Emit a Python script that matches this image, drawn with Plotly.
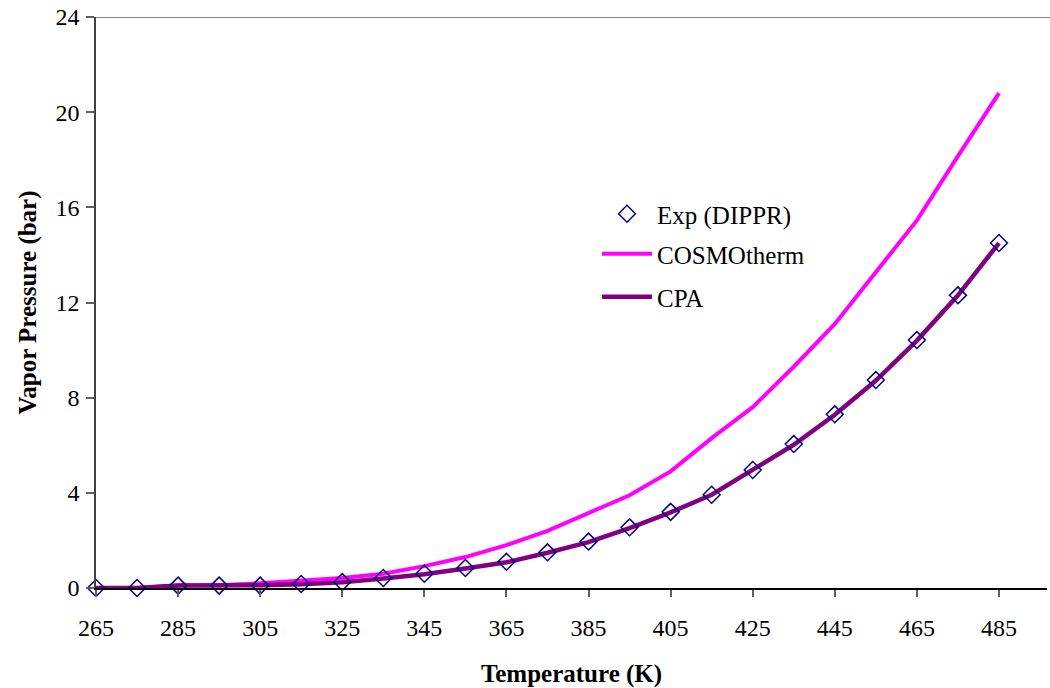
import plotly.graph_objects as go

temps = [265, 275, 285, 295, 305, 315, 325, 335, 345, 355, 365, 375,
         385, 395, 405, 415, 425, 435, 445, 455, 465, 475, 485]
exp_dippr = [0.0, 0.0, 0.1, 0.1, 0.1, 0.17, 0.25, 0.42, 0.6, 0.84, 1.1, 1.5,
             1.95, 2.55, 3.2, 3.92, 4.96, 6.05, 7.3, 8.74, 10.42, 12.3, 14.5]
cosmotherm = [0.0, 0.0, 0.1, 0.12, 0.2, 0.33, 0.42, 0.6, 0.92, 1.3, 1.8, 2.4,
              3.15, 3.9, 4.9, 6.3, 7.6, 9.3, 11.1, 13.3, 15.45, 18.15, 20.8]
cpa = [0.0, 0.0, 0.1, 0.1, 0.12, 0.16, 0.24, 0.4, 0.58, 0.82, 1.08, 1.48,
       1.93, 2.52, 3.18, 3.92, 4.95, 6.02, 7.28, 8.72, 10.4, 12.3, 14.5]

xticks = [265, 285, 305, 325, 345, 365, 385, 405, 425, 445, 465, 485]
yticks = [0, 4, 8, 12, 16, 20, 24]

FONT = "Times New Roman, Liberation Serif, serif"

fig = go.Figure()
fig.add_trace(go.Scatter(x=temps, y=cosmotherm, mode="lines", name="COSMOtherm",
                         line=dict(color="#FF00FF", width=4), legend="legend2",
                         cliponaxis=False))
fig.add_trace(go.Scatter(x=temps, y=cpa, mode="lines", name="CPA",
                         line=dict(color="#800080", width=4.5), legend="legend3",
                         cliponaxis=False))
fig.add_trace(go.Scatter(x=temps, y=exp_dippr, mode="markers", name="Exp (DIPPR)",
                         marker=dict(symbol="diamond-open", size=13, color="#000080",
                                     line=dict(width=1.5, color="#000080")),
                         legend="legend", cliponaxis=False, showlegend=True))

# body margin is removed below; plot area spans page x 96..1047, y 17..588
W, H = 1050, 688
L, T, R, B = 96, 17, 3, 100
pw = W - L - R
ph = H - T - B

def px_x(page_x):
    return (page_x - L) / pw

def px_y(page_y):
    return (H - B - page_y) / ph

leg_common = dict(bgcolor="rgba(0,0,0,0)", font=dict(family=FONT, size=25, color="black"),
                  xanchor="left", yanchor="middle", itemwidth=50, visible=True)

fig.update_layout(
    width=W, height=H,
    margin=dict(l=L, r=R, t=T, b=B, autoexpand=False),
    paper_bgcolor="white", plot_bgcolor="white",
    showlegend=True,
    font=dict(family=FONT, size=24, color="black"),
    legend=dict(x=px_x(597), y=px_y(214), **leg_common),
    legend2=dict(x=px_x(597), y=px_y(254), **leg_common),
    legend3=dict(x=px_x(597), y=px_y(297), **leg_common),
    xaxis=dict(range=[265, 496.7], tickvals=xticks, ticktext=[str(v) for v in xticks],
               showline=True, linecolor="black", linewidth=1.5, automargin=False,
               ticks="outside", ticklen=7, tickcolor="#606060", tickwidth=1.5,
               showgrid=False, zeroline=False, ticklabelstandoff=10,
               ticklabeloverflow="allow",
               tickfont=dict(family=FONT, size=24, color="black"),
               title=dict(text="<b>Temperature (K)</b>", standoff=25,
                          font=dict(family=FONT, size=25, color="black"))),
    yaxis=dict(range=[0, 24], tickvals=yticks,
               showline=True, linecolor="#404040", linewidth=1.5, automargin=False,
               ticks="outside", ticklen=8, tickcolor="#606060", tickwidth=1.5,
               showgrid=False, zeroline=False, ticklabelstandoff=2,
               ticklabeloverflow="allow",
               tickfont=dict(family=FONT, size=24, color="black"),
               title=dict(text="<b>Vapor Pressure (bar)</b>", standoff=12,
                          font=dict(family=FONT, size=25, color="black"))),
)

fig.add_shape(type="line", xref="paper", yref="y", x0=0, x1=1.01, y0=24, y1=24,
              line=dict(color="#606060", width=1.5), layer="below")

fig.write_html("out.html", config={"displayModeBar": False},
               post_script="document.body.style.margin='0';document.body.style.overflow='hidden';")
